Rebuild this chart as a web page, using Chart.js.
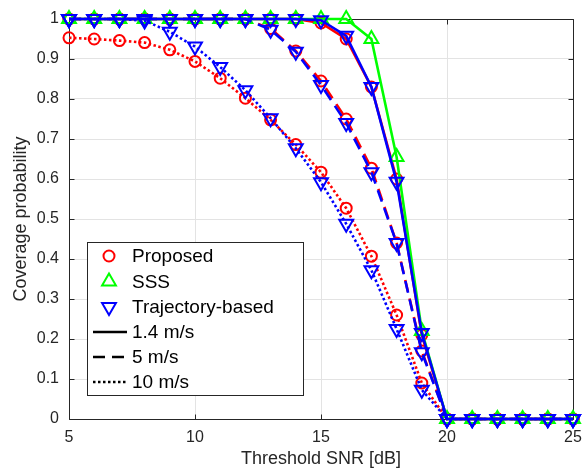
<!DOCTYPE html>
<html><head><meta charset="utf-8">
<script src="https://cdn.jsdelivr.net/npm/chart.js@4.4.0/dist/chart.umd.min.js"></script>
<style>html,body{margin:0;padding:0;background:#fff;}canvas{display:block;}</style>
</head><body>
<canvas id="c" width="585" height="468"></canvas>
<script>
// ---- data ----
const snr = [5,6,7,8,9,10,11,12,13,14,15,16,17,18,19,20,21,22,23,24,25];
// 1.4 m/s (solid)
const proposedSlow = [1,1,1,1,1,1,1,1,1,1,0.99,0.95,0.83,0.60,0.21,0,0,0,0,0,0];
const sssSlow      = [1,1,1,1,1,1,1,1,1,1,1,1,0.95,0.655,0.22,0,0,0,0,0,0];
const trajSlow     = [1,1,1,1,1,1,1,1,1,1,0.997,0.958,0.83,0.593,0.215,0,0,0,0,0,0];
// 5 m/s (dashed)
const proposedMid  = [1,1,1,1,1,1,1,1,0.976,0.92,0.845,0.75,0.627,0.44,0.17,0,0,0,0,0,0];
const trajMid      = [1,1,1,1,1,1,1,1,0.973,0.918,0.835,0.74,0.617,0.44,0.167,0,0,0,0,0,0];
// 10 m/s (dotted)
const proposedFast = [0.953,0.95,0.946,0.941,0.923,0.894,0.852,0.802,0.748,0.686,0.617,0.527,0.407,0.26,0.09,0,0,0,0,0,0];
const trajFast     = [1,1,1,0.996,0.968,0.931,0.88,0.822,0.752,0.677,0.592,0.488,0.372,0.225,0.073,0,0,0,0,0,0];

const xTicks = [5,10,15,20,25];
const yTicks = [0,0.1,0.2,0.3,0.4,0.5,0.6,0.7,0.8,0.9,1];
const yTickLabels = ['0','0.1','0.2','0.3','0.4','0.5','0.6','0.7','0.8','0.9','1'];
const xTickLabels = ['5','10','15','20','25'];

const markerNames = ['Proposed','SSS','Trajectory-based'];
const speedNames = ['1.4 m/s','5 m/s','10 m/s'];

// ---- styles ----
const RED='#ff0000', GREEN='#00ff00', BLUE='#0000ff';
const DASH=[12,7], DOT=[2.5,2.5];
const FONT='"Liberation Sans", Arial, Helvetica, sans-serif';

function ds(data, color, marker, dash){
  const tri = marker !== 'circle';
  return {
    data: snr.map((x,i)=>({x:x, y:data[i]})),
    borderColor: color, borderWidth: 2.6, borderDash: dash,
    pointStyle: tri ? 'triangle' : 'circle',
    pointRotation: marker === 'down' ? 180 : 0,
    pointRadius: tri ? 8 : 5.5,
    pointBorderWidth: 2, pointBorderColor: color,
    pointBackgroundColor: 'rgba(0,0,0,0)',
    pointHoverRadius: 0, tension: 0, fill: false, clip: false
  };
}

const datasets = [
  ds(trajSlow, BLUE, 'down', []),
  ds(trajMid, BLUE, 'down', DASH),
  ds(trajFast, BLUE, 'down', DOT),
  ds(sssSlow, GREEN, 'up', []),
  ds(proposedSlow, RED, 'circle', []),
  ds(proposedMid, RED, 'circle', DASH),
  ds(proposedFast, RED, 'circle', DOT)
];

function drawMarker(ctx, type, color, x, y){
  ctx.save();
  ctx.strokeStyle=color; ctx.lineWidth=2; ctx.setLineDash([]);
  ctx.beginPath();
  if(type==='circle'){ ctx.arc(x,y,5.5,0,Math.PI*2); }
  else {
    const r=8, s = type==='down' ? -1 : 1;
    const h = 0.866*r;
    ctx.moveTo(x, y - s*r);
    ctx.lineTo(x + h, y + s*r/2);
    ctx.lineTo(x - h, y + s*r/2);
    ctx.closePath();
  }
  ctx.stroke();
  ctx.restore();
}

const boxPlugin = {
  id:'box',
  beforeDatasetsDraw(chart){
    const {ctx, chartArea:a, scales:{x,y}} = chart;
    ctx.save();
    ctx.strokeStyle='#262626'; ctx.lineWidth=1; ctx.setLineDash([]);
    const L=Math.round(a.left)+0.5, T=Math.round(a.top)+0.5, R=Math.round(a.right)+0.5, B=Math.round(a.bottom)+0.5;
    ctx.beginPath(); ctx.rect(L,T,R-L,B-T); ctx.stroke();
    const tl=5;
    ctx.beginPath();
    xTicks.forEach(v=>{const p=Math.round(x.getPixelForValue(v))+0.5;ctx.moveTo(p,B);ctx.lineTo(p,B-tl);ctx.moveTo(p,T);ctx.lineTo(p,T+tl);});
    yTicks.forEach(v=>{const p=Math.round(y.getPixelForValue(v))+0.5;ctx.moveTo(L,p);ctx.lineTo(L+tl,p);ctx.moveTo(R,p);ctx.lineTo(R-tl,p);});
    ctx.stroke();
    ctx.restore();
  },
  afterDraw(chart){
    const ctx=chart.ctx;
    ctx.save();
    // legend box
    ctx.fillStyle='#ffffff';
    ctx.fillRect(87.5,242.5,216,153);
    ctx.strokeStyle='#262626'; ctx.lineWidth=1; ctx.setLineDash([]);
    ctx.strokeRect(87.5,242.5,216,153);
    const rows=[256,281.5,307,332,357,382];
    const markers=[['circle',RED],['up',GREEN],['down',BLUE]];
    ctx.font='19px '+FONT; ctx.fillStyle='#000'; ctx.textBaseline='middle'; ctx.textAlign='left';
    markerNames.forEach((n,i)=>{
      drawMarker(ctx, markers[i][0], markers[i][1], 109, rows[i]);
      ctx.fillStyle='#000'; ctx.fillText(n,132,rows[i]+1);
    });
    const dashes=[[],DASH,DOT];
    speedNames.forEach((n,i)=>{
      const yy=rows[3+i];
      ctx.save(); ctx.strokeStyle='#000'; ctx.lineWidth=2.6; ctx.setLineDash(dashes[i]);
      ctx.beginPath(); ctx.moveTo(93,yy); ctx.lineTo(127,yy); ctx.stroke(); ctx.restore();
      ctx.fillStyle='#000'; ctx.fillText(n,132,yy+1);
    });
    ctx.restore();
  }
};

new Chart(document.getElementById('c'), {
  type:'line',
  data:{datasets:datasets},
  options:{
    responsive:false, animation:false, devicePixelRatio:1,
    layout:{padding:{left:0,top:19,right:12,bottom:0}},
    plugins:{legend:{display:false}, tooltip:{enabled:false}},
    scales:{
      x:{type:'linear', min:5, max:25,
        afterFit(s){s.height=49; s.paddingLeft=0; s.paddingRight=0;},
        afterBuildTicks(s){s.ticks=xTicks.map(v=>({value:v}));},
        grid:{color:'#e3e3e3', lineWidth:1, drawTicks:false},
        border:{display:false},
        ticks:{padding:9, color:'#262626', font:{family:FONT,size:16},
          callback:(v,i)=>xTickLabels[i]},
        title:{display:true, text:'Threshold SNR [dB]', color:'#262626',
          font:{family:FONT,size:18,lineHeight:1}, padding:{top:0,bottom:0}}
      },
      y:{type:'linear', min:0, max:1,
        afterFit(s){s.width=69; s.paddingTop=0; s.paddingBottom=0;},
        afterBuildTicks(s){s.ticks=yTicks.map(v=>({value:v}));},
        grid:{color:'#e3e3e3', lineWidth:1, drawTicks:false},
        border:{display:false},
        ticks:{padding:10, color:'#262626', font:{family:FONT,size:16},
          callback:(v,i)=>yTickLabels[i]},
        title:{display:true, text:'Coverage probability', color:'#262626',
          font:{family:FONT,size:18,lineHeight:1}, padding:{top:12,bottom:0}}
      }
    }
  },
  plugins:[boxPlugin]
});
</script>
</body></html>
